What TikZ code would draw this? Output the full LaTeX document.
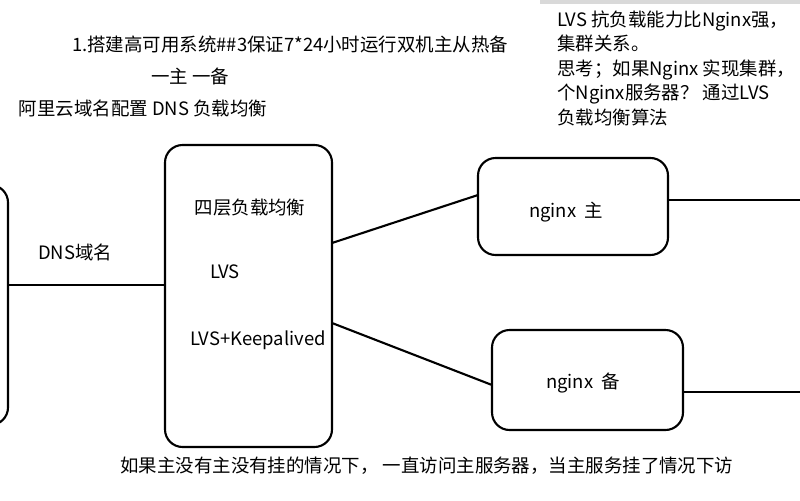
\documentclass[tikz,border=0pt]{standalone}
\usepackage{fontspec}
\setmainfont{Liberation Serif}
\newfontfamily\cjk{Noto Sans CJK SC}
\begin{document}
\begin{tikzpicture}[x=0.02cm,y=-0.02cm,
  box/.style={draw,very thick,rounded corners=10pt},
  txt/.style={font=\cjk\fontsize{10.5}{12}\selectfont,inner sep=0pt}]
  \useasboundingbox (0,0) rectangle (800,500);
  \clip (0,0) rectangle (800,500);
  \fill[gray!30] (540,0) rectangle (800,4);

  % boxes
  \draw[box] (-60,185) rectangle (8,425);
  \draw[box] (165,145) rectangle (332,447);
  \draw[box] (478,158) rectangle (668,255);
  \draw[box] (492,330) rectangle (683,430);

  % connectors
  \draw[very thick] (8,285) -- (165,285);
  \draw[very thick] (332,243) -- (478,195);
  \draw[very thick] (332,323) -- (492,385);
  \draw[very thick] (668,200) -- (800,200);
  \draw[very thick] (683,392) -- (800,392);

  % texts
  \node[txt] (title) at (290,44) {1.搭建高可用系统\#\#3保证7*24小时运行双机主从热备};
  \node[txt] (pair) at (190,76) {一主 一备};
  \node[txt] (dns) at (143,108) {阿里云域名配置 DNS 负载均衡};
  \node[txt] (dnsname) at (75,252) {DNS域名};
  \node[txt] (layer) at (250,208) {四层负载均衡};
  \node[txt] (lvs) at (225,272) {LVS};
  \node[txt] (keep) at (258,340) {LVS+Keepalived};
  \node[txt] (main) at (566,212) {nginx\ \ 主};
  \node[txt] (backup) at (583,383) {nginx\ \ 备};
  \node[txt,anchor=west] (note) at (120,466) {如果主没有主没有挂的情况下， 一直访问主服务器，当主服务挂了情况下访};
  \node[txt,anchor=north west,align=left] (lvsnote) at (557,10) {LVS 抗负载能力比Nginx强，\\[2pt]集群关系。\\[2pt]思考；如果Nginx 实现集群，\\[2pt]个Nginx服务器？ 通过LVS\\[2pt]负载均衡算法};
\end{tikzpicture}
\end{document}
